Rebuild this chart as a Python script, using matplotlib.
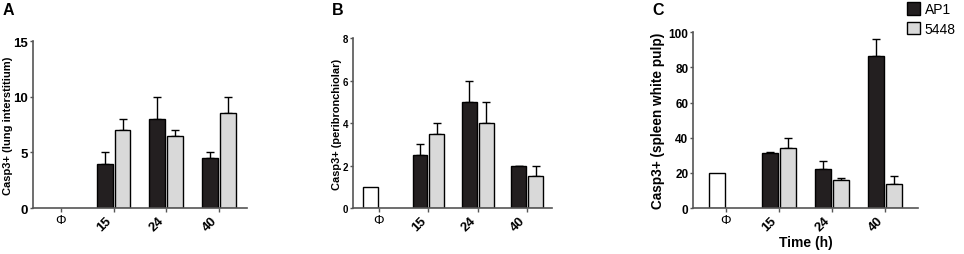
import numpy as np
import matplotlib
matplotlib.use("Agg")
import matplotlib.pyplot as plt

plt.rcParams['font.family'] = ['Liberation Sans', 'DejaVu Sans']

categories = ["Φ", "15", "24", "40"]
series_names = ["AP1", "5448"]

# panel A: lung interstitium
a_ctrl = 0
a_ap1 = [4.0, 8.0, 4.5]
a_ap1_err = [1.0, 2.0, 0.5]
a_5448 = [7.0, 6.5, 8.5]
a_5448_err = [1.0, 0.5, 1.5]

# panel B: peribronchiolar
b_ctrl = 1
b_ap1 = [2.5, 5.0, 2.0]
b_ap1_err = [0.5, 1.0, 0.0]
b_5448 = [3.5, 4.0, 1.5]
b_5448_err = [0.5, 1.0, 0.5]

# panel C: spleen white pulp
c_ctrl = 20
c_ap1 = [31.5, 22.5, 86.5]
c_ap1_err = [0.5, 4.5, 9.5]
c_5448 = [34.0, 16.0, 13.5]
c_5448_err = [6.0, 1.0, 4.5]

dark = "#231f20"
light = "#d9d9d9"
spine_col = "#555555"

fig = plt.figure(figsize=(9.64, 2.55), dpi=100)

# letter, axes rect, data..., ymax, yticks, ylabel, xlim, ylabel x, ylabel size,
# y tick size, letter x
panels = [
    ("A", [0.0342, 0.180, 0.222, 0.655], a_ctrl, a_ap1, a_ap1_err, a_5448, a_5448_err,
     15, [0, 5, 10, 15], "Casp3+ (lung interstitium)", (-0.53, 3.53), -0.093, 8.0, 9.5, 0.003),
    ("B", [0.366, 0.180, 0.207, 0.667], b_ctrl, b_ap1, b_ap1_err, b_5448, b_5448_err,
     8, [0, 2, 4, 6, 8], "Casp3+ (peribronchiolar)", (-0.53, 3.51), -0.055, 7.9, 7, 0.344),
    ("C", [0.719, 0.180, 0.233, 0.690], c_ctrl, c_ap1, c_ap1_err, c_5448, c_5448_err,
     100, [0, 20, 40, 60, 80, 100], "Casp3+ (spleen white pulp)", (-0.62, 3.61), -0.125, 9.8, 8.5, 0.677),
]

w = 0.30
off = 0.17
handles = None
for (letter, rect, ctrl, ap1, ap1e, s5, s5e, ymax, yt, ylab, xl,
     ylx, ylfs, tfs, lx) in panels:
    ax = fig.add_axes(rect)
    x = np.arange(1, 4)
    if ctrl > 0:
        ax.bar(0 - off, ctrl, w, color="white", edgecolor="black", linewidth=1.0, zorder=2)
    h1 = ax.bar(x - off, ap1, w, color=dark, edgecolor="black", linewidth=1.0, zorder=2)
    h2 = ax.bar(x + off, s5, w, color=light, edgecolor="black", linewidth=1.0, zorder=2)
    ax.errorbar(x - off, ap1, yerr=[np.zeros(3), ap1e], fmt="none", ecolor="black",
                elinewidth=1.0, capsize=3, capthick=1.0, zorder=1)
    ax.errorbar(x + off, s5, yerr=[np.zeros(3), s5e], fmt="none", ecolor="black",
                elinewidth=1.0, capsize=3, capthick=1.0, zorder=1)
    handles = (h1, h2)

    ax.set_ylim(0, ymax)
    ax.set_xlim(*xl)
    ax.set_yticks(yt)
    ax.set_xticks(range(4))
    ax.set_xticklabels(categories)
    for lab in ax.get_xticklabels():
        lab.set_fontsize(9.5)
        if lab.get_text() == "Φ":
            lab.set_fontweight("normal")
            lab.set_ha("center")
        else:
            lab.set_fontweight("bold")
            lab.set_rotation(45)
            lab.set_ha("right")
    for lab in ax.get_yticklabels():
        lab.set_fontweight("bold")
        lab.set_fontsize(tfs)
    ax.set_ylabel(ylab, fontsize=ylfs, fontweight="bold")
    ax.yaxis.set_label_coords(ylx, 0.5)
    for s in ["top", "right"]:
        ax.spines[s].set_visible(False)
    for s in ["left", "bottom"]:
        ax.spines[s].set_color(spine_col)
        ax.spines[s].set_linewidth(1.2)
    ax.tick_params(axis="both", color=spine_col, width=1.0, length=3, pad=1.5)
    ax.tick_params(axis="y", length=2.5, pad=1)
    fig.text(lx, 0.99, letter, fontsize=11.5, fontweight="bold", va="top", ha="left")
    if letter == "C":
        ax.set_xlabel("Time (h)", fontsize=10, fontweight="bold", labelpad=1)

fig.legend(handles, series_names, loc="upper right", bbox_to_anchor=(1.0, 1.02),
           frameon=False, fontsize=10, handlelength=1.0, handleheight=1.0,
           handletextpad=0.3, labelspacing=0.4, borderaxespad=0.2)

fig.savefig("out.png", dpi=100)
